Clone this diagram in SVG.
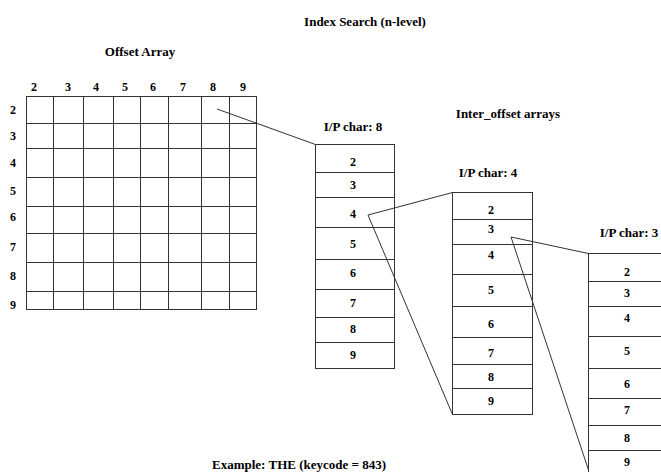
<svg xmlns="http://www.w3.org/2000/svg" width="661" height="472" viewBox="0 0 661 472">
  <style>
    .c { text-anchor: middle; }
    .ln { stroke: #333; stroke-width: 1; fill: none; shape-rendering: crispEdges; }
    .cn { stroke: #333; stroke-width: 1; fill: none; }
  </style>
  <rect width="661" height="472" fill="#fff"/>

  <g font-family="'Liberation Serif', serif" font-weight="bold" font-size="13" fill="#000">

  <g id="titles">
    <text x="365" y="26" class="c">Index Search (n-level)</text>
    <text x="140" y="56" class="c">Offset Array</text>
    <text x="508" y="118" class="c">Inter_offset arrays</text>
    <text x="299" y="469" class="c">Example: THE (keycode = 843)</text>
  </g>

  <!-- 8x8 offset array with row and column digits -->
  <g id="offset-array">
    <g class="c" font-size="12">
      <text x="34" y="91">2</text><text x="68" y="91">3</text><text x="96" y="91">4</text><text x="125" y="91">5</text>
      <text x="153" y="91">6</text><text x="183" y="91">7</text><text x="213" y="91">8</text><text x="243" y="91">9</text>
      <text x="13" y="114">2</text><text x="13" y="140">3</text><text x="13" y="167">4</text><text x="13" y="195">5</text>
      <text x="13" y="221">6</text><text x="13" y="251">7</text><text x="13" y="280">8</text><text x="13" y="309">9</text>
    </g>
    <path class="ln" d="M26.5 96.5H256.5V309.5H26.5Z
      M53.5 96.5V309.5 M83.5 96.5V309.5 M113.5 96.5V309.5 M140.5 96.5V309.5
      M168.5 96.5V309.5 M201.5 96.5V309.5 M229.5 96.5V309.5
      M26.5 123.5H256.5 M26.5 148.5H256.5 M26.5 177.5H256.5 M26.5 206.5H256.5
      M26.5 233.5H256.5 M26.5 262.5H256.5 M26.5 291.5H256.5"/>
  </g>

  <!-- first inter-offset array -->
  <g id="array-8">
    <text x="353" y="131" class="c">I/P char: 8</text>
    <path class="ln" d="M315.5 144.5H394.5V368.5H315.5Z
      M315.5 172.5H394.5 M315.5 197.5H394.5 M315.5 227.5H394.5 M315.5 259.5H394.5
      M315.5 289.5H394.5 M315.5 317.5H394.5 M315.5 342.5H394.5"/>
    <g class="c" font-size="12">
      <text x="353" y="166">2</text><text x="353" y="189">3</text><text x="353" y="218">4</text><text x="353" y="248">5</text>
      <text x="353" y="277">6</text><text x="353" y="307">7</text><text x="353" y="333">8</text><text x="353" y="359">9</text>
    </g>
  </g>

  <!-- second inter-offset array -->
  <g id="array-4">
    <text x="488" y="177" class="c">I/P char: 4</text>
    <path class="ln" d="M452.5 192.5H532.5V414.5H452.5Z
      M452.5 219.5H532.5 M452.5 244.5H532.5 M452.5 274.5H532.5 M452.5 306.5H532.5
      M452.5 337.5H532.5 M452.5 364.5H532.5 M452.5 388.5H532.5"/>
    <g class="c" font-size="12">
      <text x="491" y="214">2</text><text x="491" y="233">3</text><text x="491" y="259">4</text><text x="491" y="294">5</text>
      <text x="491" y="328">6</text><text x="491" y="357">7</text><text x="491" y="381">8</text><text x="491" y="405">9</text>
    </g>
  </g>

  <!-- third inter-offset array, runs off the right and bottom edges -->
  <g id="array-3">
    <text x="629" y="237" class="c">I/P char: 3</text>
    <path class="ln" d="M588.5 472V253.5H661
      M588.5 281.5H661 M588.5 306.5H661 M588.5 336.5H661 M588.5 368.5H661
      M588.5 398.5H661 M588.5 425.5H661 M588.5 450.5H661"/>
    <g class="c" font-size="12">
      <text x="627" y="276">2</text><text x="627" y="297">3</text><text x="627" y="322">4</text><text x="627" y="355">5</text>
      <text x="627" y="388">6</text><text x="627" y="414">7</text><text x="627" y="442">8</text><text x="627" y="466">9</text>
    </g>
  </g>

  </g>

  <g id="connectors">
    <path class="cn" d="M217 109L315.5 144.5"/>
    <path class="cn" d="M368 215L452.5 192.5"/>
    <path class="cn" d="M368 215L452.5 414.5"/>
    <path class="cn" d="M511 237L588.5 253.5"/>
    <path class="cn" d="M511 237L588.5 470"/>
  </g>
</svg>
